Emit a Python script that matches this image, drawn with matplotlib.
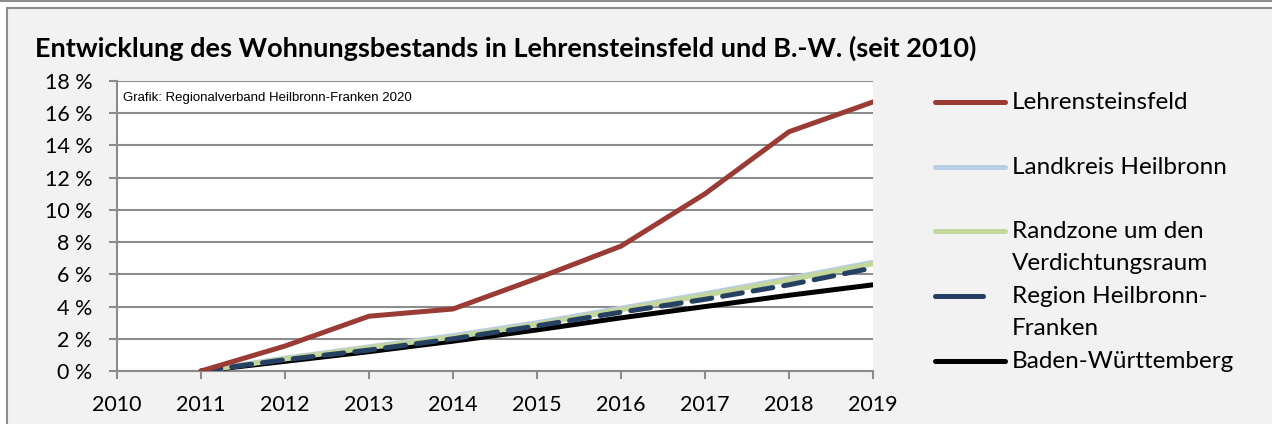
import matplotlib
matplotlib.use("Agg")
import matplotlib.pyplot as plt
from matplotlib.lines import Line2D
from matplotlib.patches import Rectangle

# data, growth since 2010 in %
years = [2011, 2012, 2013, 2014, 2015, 2016, 2017, 2018, 2019]
lehrensteinsfeld = [0, 1.55, 3.4, 3.85, 5.75, 7.75, 11.0, 14.85, 16.7]
landkreis_hn = [0, 0.8, 1.5, 2.2, 3.0, 3.9, 4.8, 5.75, 6.75]
randzone = [0, 0.75, 1.45, 2.1, 2.9, 3.8, 4.7, 5.65, 6.65]
region_hnf = [0, 0.7, 1.3, 2.0, 2.8, 3.65, 4.45, 5.35, 6.4]
bw = [0, 0.6, 1.2, 1.85, 2.55, 3.3, 4.0, 4.7, 5.35]

labels = ["Lehrensteinsfeld", "Landkreis Heilbronn", "Randzone um den\nVerdichtungsraum",
          "Region Heilbronn-\nFranken", "Baden-Württemberg"]
colors = ["#9b3b36", "#b9cde5", "#c3d69b", "#254061", "#000000"]

W, H = 1272, 424
fig = plt.figure(figsize=(W / 100, H / 100), dpi=100, facecolor="white")

# grey chart frame like the excel chart area
fig.patches.append(Rectangle((7 / W, -0.1), 1.2, (H - 8) / H + 0.1, transform=fig.transFigure,
                             facecolor="#f2f2f2", edgecolor="#8c8c8c", lw=1.5, zorder=-10))
fig.add_artist(Line2D([0, 1], [1 - 1 / H, 1 - 1 / H], transform=fig.transFigure, color="#8c8c8c",
                      lw=1.5, zorder=-10))

ax = fig.add_axes([117 / W, 1 - 371 / H, (873 - 117) / W, (371 - 81) / H])
ax.set_zorder(1)
ax.set_facecolor("white")

ax.plot(years, bw, color=colors[4], lw=3.6, solid_capstyle="round", zorder=3)
ax.plot(years, landkreis_hn, color=colors[1], lw=3.6, solid_capstyle="round", zorder=4)
ax.plot(years, randzone, color=colors[2], lw=3.6, solid_capstyle="round", zorder=5)
ax.plot(years, region_hnf, color=colors[3], lw=3.6, dashes=(4, 2.2), dash_capstyle="round", zorder=6)
ax.plot(years, lehrensteinsfeld, color=colors[0], lw=3.6, solid_capstyle="round", zorder=7)

ax.set_xlim(2010, 2019)
ax.set_ylim(0, 18)
ax.set_xticks(range(2010, 2020))
ax.set_yticks(range(0, 19, 2))
ax.set_yticklabels([f"{v} %" for v in range(0, 19, 2)], fontfamily="Lato")
ax.set_xticklabels([str(y) for y in range(2010, 2020)], fontfamily="Lato")
ax.yaxis.grid(True, color="#8c8c8c", lw=1.5)
ax.set_axisbelow(True)
for s in ["top", "right"]:
    ax.spines[s].set_visible(False)
for s in ["left", "bottom"]:
    ax.spines[s].set_color("#8c8c8c")
    ax.spines[s].set_linewidth(1.5)
ax.tick_params(axis="both", colors="#8c8c8c", width=1.5, length=5.5, labelsize=15.5,
               labelcolor="black")
ax.tick_params(axis="y", pad=12)
ax.tick_params(axis="x", pad=12)

ax.text(0.008, 0.94, "Grafik: Regionalverband Heilbronn-Franken 2020", transform=ax.transAxes,
        fontsize=9.5, family="Liberation Sans", va="center", ha="left")

fig.text(35 / W, 1 - 48 / H, "Entwicklung des Wohnungsbestands in Lehrensteinsfeld und B.-W. (seit 2010)",
         fontsize=19.5, fontweight="bold", family="Lato", va="center", ha="left")

# legend drawn by hand so the lines sit next to the first text row
leg_y = [102, 167, 231, 296, 361]
for i, (lab, col) in enumerate(zip(labels, colors)):
    y = 1 - leg_y[i] / H
    x1 = 1005 if i != 3 else 983
    fig.add_artist(Line2D([935 / W, x1 / W], [y, y], transform=fig.transFigure, color=col,
                          lw=3.6, solid_capstyle="round"))
    fig.text(1012 / W, 1 - (leg_y[i] - 10) / H, lab, fontsize=17.5, family="Lato", va="top", ha="left",
             linespacing=1.65)

fig.savefig("out.png", dpi=100, facecolor=fig.get_facecolor())
